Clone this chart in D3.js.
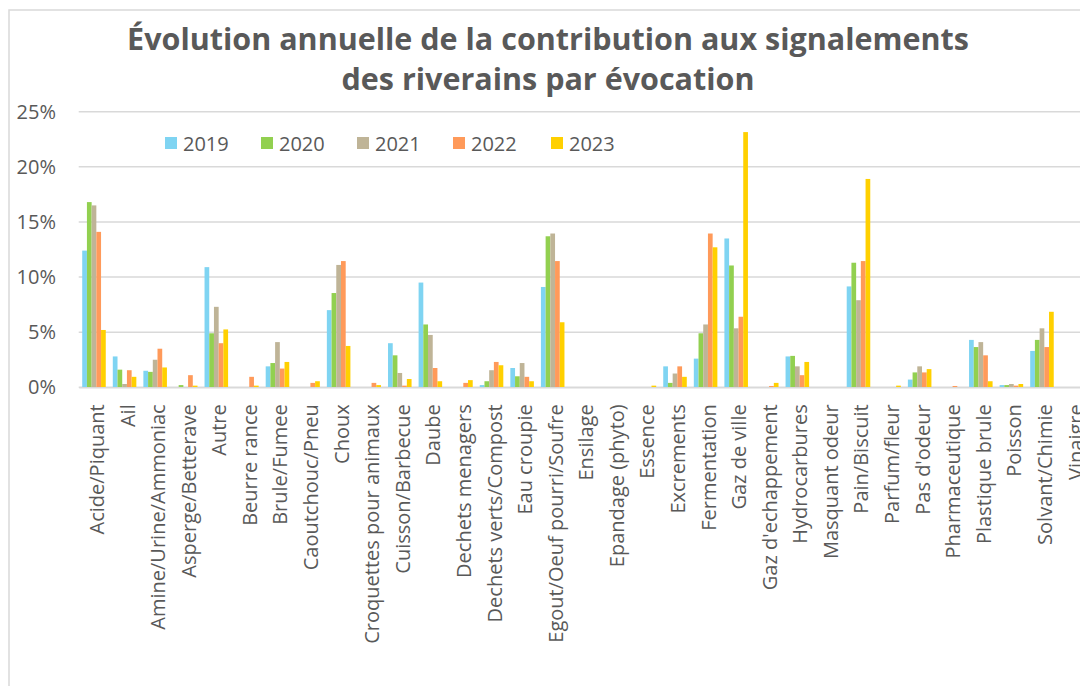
<!DOCTYPE html>
<html><head><meta charset="utf-8">
<script src="https://cdn.jsdelivr.net/npm/d3@7"></script>
<style>html,body{margin:0;padding:0;background:#fff;}svg{display:block;font-family:"Open Sans",sans-serif;}</style>
</head><body>
<svg id="c" width="1080" height="686"></svg>
<script>
const categories = ["Acide/Piquant","Ail","Amine/Urine/Ammoniac","Asperge/Betterave","Autre","Beurre rance","Brule/Fumee","Caoutchouc/Pneu","Choux","Croquettes pour animaux","Cuisson/Barbecue","Daube","Dechets menagers","Dechets verts/Compost","Eau croupie","Egout/Oeuf pourri/Soufre","Ensilage","Epandage (phyto)","Essence","Excrements","Fermentation","Gaz de ville","Gaz d'echappement","Hydrocarbures","Masquant odeur","Pain/Biscuit","Parfum/fleur","Pas d'odeur","Pharmaceutique","Plastique brule","Poisson","Solvant/Chimie","Vinaigre"];
const years = ["2019","2020","2021","2022","2023"];
const v2019 = [12.4,2.8,1.5,0,10.9,0,1.9,0,7.0,0,4.0,9.5,0,0.2,1.75,9.1,0,0,0,1.9,2.6,13.5,0,2.8,0,9.15,0,0.7,0,4.3,0.2,3.3,0];
const v2020 = [16.8,1.6,1.4,0.2,4.9,0,2.2,0,8.55,0,2.9,5.7,0,0.55,1.0,13.7,0,0,0,0.4,4.9,11.05,0,2.85,0,11.3,0,1.35,0,3.65,0.2,4.3,0];
const v2021 = [16.5,0.3,2.5,0,7.3,0,4.1,0,11.1,0,1.3,4.75,0,1.55,2.2,13.95,0,0,0,1.25,5.7,5.35,0,1.9,0,7.9,0,1.9,0,4.1,0.3,5.35,0];
const v2022 = [14.1,1.55,3.5,1.1,4.0,0.95,1.7,0.4,11.45,0.4,0.15,1.75,0.4,2.3,0.95,11.45,0,0,0,1.9,13.95,6.4,0.12,1.1,0,11.45,0,1.35,0.12,2.9,0.15,3.65,0];
const v2023 = [5.2,0.95,1.8,0.15,5.25,0.15,2.3,0.55,3.75,0.2,0.75,0.55,0.65,2.0,0.55,5.9,0,0,0.15,0.95,12.7,23.15,0.4,2.3,0,18.9,0.15,1.65,0,0.55,0.3,6.85,0];
const yTicks = [0,5,10,15,20,25];
const titleLines = ["Évolution annuelle de la contribution aux signalements","des riverains par évocation"];
const colors = ["#7fd4f2","#92d050","#bfb497","#ff9a5a","#ffd000"];

const series = [v2019,v2020,v2021,v2022,v2023];
const svg = d3.select("#c");
const txt = "#595959";

// frame
svg.append("rect").attr("x",9).attr("y",10).attr("width",1100).attr("height",700)
  .attr("fill","none").attr("stroke","#d9d9d9").attr("stroke-width",1.5);

// title
titleLines.forEach((t,i)=>{
  svg.append("text").attr("x",548).attr("y",[50,90][i]).attr("text-anchor","middle")
    .attr("font-weight","bold").attr("font-size",30.5).attr("fill",txt).text(t);
});

const left = 78.7, band = 30.58;
const x = d3.scaleBand().domain(categories).range([left, left+band*categories.length]).paddingInner(0.23).paddingOuter(0.115);
const y = d3.scaleLinear().domain([0,25]).range([387.3,111.7]);
const xs = d3.scaleBand().domain(years).range([0,x.bandwidth()]);

// grid
svg.append("g").selectAll("line").data(yTicks).join("line")
  .attr("x1",left).attr("x2",1080).attr("y1",d=>y(d)).attr("y2",d=>y(d))
  .attr("stroke","#d9d9d9").attr("stroke-width",1.5);

// y labels
const ya = svg.append("g").attr("transform",`translate(56,0)`)
  .call(d3.axisLeft(y).tickValues(yTicks).tickFormat(d=>d+"%").tickSize(0).tickPadding(0));
ya.select(".domain").remove();
ya.selectAll("text").attr("font-size",20).attr("fill",txt).attr("font-family","Open Sans");

// bars
const g = svg.append("g");
categories.forEach((c,ci)=>{
  years.forEach((yr,si)=>{
    const v = series[si][ci];
    if(v<=0) return;
    g.append("rect").attr("x",x(c)+xs(yr)).attr("width",xs.bandwidth())
      .attr("y",y(v)).attr("height",y(0)-y(v)).attr("fill",colors[si]);
  });
});

// x axis
const xa = svg.append("g").attr("transform",`translate(0,${y(0)})`)
  .call(d3.axisBottom(x).tickSize(0).tickPadding(0));
xa.select(".domain").attr("stroke","#d9d9d9").attr("stroke-width",1.5);
xa.selectAll("text").attr("font-size",20).attr("fill",txt).attr("font-family","Open Sans")
  .attr("text-anchor","end").attr("transform","rotate(-90)")
  .attr("x",-17).attr("y",0).attr("dy","0.5em");

// legend
const lx = [165,261,357,453,551];
years.forEach((yr,i)=>{
  svg.append("rect").attr("x",lx[i]).attr("y",137).attr("width",12).attr("height",12).attr("fill",colors[i]);
  svg.append("text").attr("x",lx[i]+18).attr("y",150.5).attr("font-size",20).attr("fill",txt).text(yr);
});
</script>
</body></html>
